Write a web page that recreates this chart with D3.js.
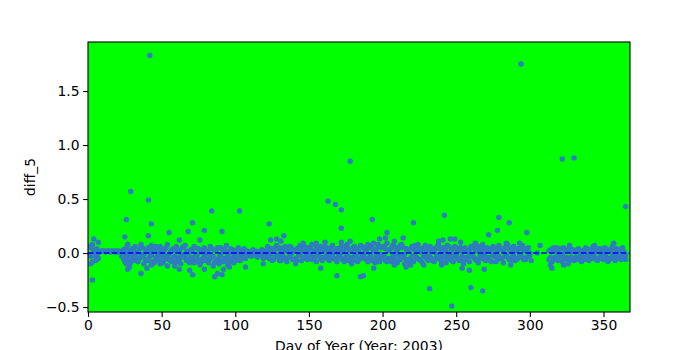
<!DOCTYPE html>
<html>
<head>
<meta charset="utf-8">
<script src="https://cdn.jsdelivr.net/npm/d3@7"></script>
<style>
  body { margin: 0; background: #fff; }
  svg { display: block; font-family: 'DejaVu Sans', sans-serif; }
</style>
</head>
<body>
<div id="chart"></div>
<script>
// Daily diff_5 values, day 1..365 (null = no reading that day)
const dailyDiffs = [
  0.06, -0.03, 0.08, 0.02, -0.07, 0.04, -0.05, 0.01, 0.02, 0.02,
  0.02, 0.01, 0.02, 0.02, 0.01, 0.02, 0.02, 0.01, 0.02, 0.01,
  0.02, 0.01, -0.03, 0.03, -0.08, 0.05, -0.06, 0.02, -0.09, 0.04,
  -0.04, 0.06, -0.07, 0.01, -0.05, 0.08, -0.02, -0.10, 0.03, -0.06,
  0.05, -0.03, 0.07, -0.08, 0.02, -0.05, 0.04, -0.07, 0.06, -0.02,
  -0.09, 0.03, -0.04, 0.08, -0.06, 0.01, -0.08, 0.04, -0.03, 0.06,
  -0.05, 0.02, -0.10, 0.05, -0.04, 0.07, -0.07, 0.00, -0.09, 0.03,
  -0.06, 0.06, -0.03, -0.08, 0.04, -0.11, 0.01, -0.05, 0.05, -0.07,
  0.02, -0.09, 0.06, -0.04, -0.12, 0.03, -0.07, 0.05, -0.10, -0.02,
  0.04, -0.08, -0.05, 0.07, -0.11, 0.01, -0.06, 0.03, -0.09, 0.02,
  -0.04, 0.05, -0.07, 0.00, -0.03, 0.04, -0.05, 0.02, -0.02, 0.01,
  -0.03, 0.03, -0.01, 0.02, -0.04, 0.01, -0.02, 0.03, -0.05, 0.02,
  -0.03, 0.06, -0.05, 0.04, -0.07, 0.02, -0.04, 0.07, -0.02, 0.05,
  -0.06, 0.03, -0.04, 0.06, -0.08, 0.01, -0.03, 0.05, -0.06, 0.02,
  -0.05, 0.04, -0.02, 0.07, -0.07, 0.03, -0.04, 0.01, -0.06, 0.05,
  -0.03, 0.08, -0.05, 0.02, -0.08, 0.04, -0.02, 0.06, -0.07, 0.03,
  -0.04, 0.05, -0.06, 0.02, -0.03, 0.07, -0.05, 0.01, -0.08, 0.04,
  -0.02, 0.06, -0.06, 0.03, -0.04, 0.08, -0.07, 0.02, -0.05, 0.05,
  -0.03, 0.04, -0.08, 0.01, -0.05, 0.06, -0.02, 0.03, -0.06, 0.05,
  -0.04, 0.07, -0.07, 0.02, -0.09, 0.04, -0.06, -0.08, 0.05, -0.03,
  0.06, -0.07, 0.09, -0.05, 0.03, -0.08, 0.07, -0.04, 0.01, -0.09,
  0.05, -0.06, 0.08, -0.03, -0.10, 0.04, -0.07, 0.02, -0.05, 0.06,
  -0.08, 0.03, -0.04, 0.07, -0.06, 0.01, -0.09, 0.05, -0.03, 0.02,
  -0.07, 0.06, -0.05, 0.03, -0.08, 0.04, -0.02, 0.08, -0.06, 0.01,
  -0.04, 0.05, -0.09, 0.07, -0.03, -0.06, 0.03, -0.08, 0.06, -0.02,
  -0.05, 0.04, -0.07, 0.02, -0.10, 0.05, -0.04, 0.01, -0.08, 0.06,
  -0.03, 0.07, -0.06, 0.03, -0.09, 0.04, -0.05, 0.08, -0.02, -0.07,
  0.05, -0.04, 0.02, -0.08, 0.06, -0.03, 0.04, -0.06, 0.07, -0.05,
  0.03, -0.09, 0.05, -0.02, 0.08, -0.06, 0.01, -0.04, 0.06, -0.07,
  0.02, -0.05, 0.04, -0.03, 0.07, -0.06, 0.03, -0.04, 0.05, -0.02,
  null, null, null, null, null, null, 0.07, null, null, null,
  null, null, -0.06, 0.03, -0.08, 0.05, -0.04, 0.02, -0.07, 0.04,
  -0.03, -0.08, 0.05, -0.05, 0.02, -0.06, 0.06, -0.04, 0.03, -0.07,
  0.01, -0.05, 0.04, -0.03, -0.08, 0.02, -0.06, 0.05, -0.02, -0.07,
  0.03, -0.05, 0.06, -0.04, 0.01, -0.07, 0.04, -0.03, 0.02, -0.06,
  0.05, -0.04, -0.08, 0.03, -0.05, 0.06, -0.02, -0.07, 0.04, -0.03,
  0.02, -0.06, 0.05, -0.04, -0.02
];

// second daily reading, day 1..365
const dailyDiffs2 = [
  -0.01, 0.05, -0.08, -0.02, 0.03, -0.04, 0.00, null, null, null,
  null, null, null, null, null, null, null, null, null, null,
  null, null, 0.00, -0.05, -0.02, -0.10, 0.01, -0.04, -0.01, -0.07,
  0.02, -0.02, -0.05, -0.08, 0.04, -0.03, 0.05, -0.01, -0.06, 0.02,
  -0.07, 0.01, -0.02, 0.03, -0.09, 0.06, -0.03, 0.00, -0.05, 0.04,
  0.01, -0.06, 0.05, -0.02, -0.01, -0.07, 0.03, -0.04, 0.02, -0.08,
  0.03, -0.06, -0.01, -0.03, 0.06, -0.02, 0.02, -0.06, 0.01, -0.04,
  0.02, -0.09, 0.05, -0.02, -0.06, 0.01, -0.08, 0.03, -0.03, 0.00,
  -0.06, -0.01, -0.05, 0.04, -0.03, -0.09, 0.02, -0.06, -0.04, 0.05,
  -0.07, 0.01, 0.03, -0.06, -0.02, -0.08, 0.04, -0.05, -0.01, -0.07,
  0.02, -0.02, 0.03, -0.06, 0.01, null, 0.00, null, 0.01, null,
  0.00, null, 0.02, null, -0.01, null, 0.01, null, 0.00, -0.02,
  0.01, -0.04, 0.03, -0.01, 0.02, -0.06, 0.05, -0.03, 0.04, -0.07,
  0.01, -0.02, 0.05, -0.05, 0.02, -0.04, 0.06, -0.01, 0.03, -0.06,
  0.02, -0.07, 0.05, -0.01, 0.03, -0.05, 0.06, -0.03, 0.02, -0.01,
  0.04, -0.06, 0.01, -0.04, 0.05, -0.02, 0.03, -0.05, 0.02, -0.04,
  0.06, -0.02, 0.03, -0.07, 0.05, -0.01, 0.02, -0.06, 0.04, -0.03,
  0.03, -0.05, 0.01, -0.08, 0.06, -0.02, 0.04, -0.04, 0.02, -0.07,
  0.06, -0.02, 0.03, -0.06, 0.07, -0.03, 0.05, -0.05, 0.01, -0.08,
  0.05, -0.02, 0.04, -0.06, 0.02, -0.03, 0.08, -0.01, -0.05, 0.06,
  -0.02, 0.04, -0.08, 0.02, -0.06, 0.05, -0.03, 0.06, -0.07, 0.03,
  -0.02, 0.07, -0.04, 0.05, -0.01, -0.06, 0.03, -0.08, 0.04, -0.03,
  0.05, -0.02, 0.06, -0.05, 0.02, -0.07, 0.04, -0.03, 0.07, -0.05,
  0.02, -0.03, 0.05, -0.07, 0.01, -0.05, 0.06, -0.03, 0.04, -0.08,
  0.05, -0.03, 0.02, -0.05, 0.06, -0.01, -0.07, 0.04, -0.03, 0.05,
  0.02, -0.07, 0.05, -0.03, 0.04, -0.06, 0.02, -0.05, 0.03, -0.02,
  0.05, -0.04, 0.02, -0.07, 0.06, -0.03, 0.03, -0.05, 0.04, 0.01,
  -0.06, 0.04, -0.07, 0.03, -0.02, 0.05, -0.08, 0.02, -0.03, 0.04,
  -0.05, 0.02, -0.03, 0.06, -0.04, 0.03, -0.07, 0.05, -0.03, 0.02,
  -0.06, 0.04, -0.02, 0.05, -0.04, 0.02, -0.06, 0.04, -0.03, 0.00,
  null, null, null, null, 0.00, null, null, null, null, null,
  null, null, 0.02, -0.04, 0.01, -0.06, 0.03, -0.05, 0.00, -0.03,
  0.04, -0.02, -0.06, 0.02, -0.04, 0.03, -0.07, 0.01, -0.05, 0.02,
  -0.04, 0.03, -0.06, 0.02, 0.00, -0.04, 0.03, -0.05, 0.04, -0.01,
  -0.05, 0.02, -0.03, 0.03, -0.06, 0.02, -0.05, 0.04, -0.04, 0.01,
  -0.03, 0.03, 0.01, -0.06, 0.02, -0.03, 0.04, -0.05, 0.01, 0.03,
  -0.05, 0.03, -0.02, 0.01, -0.06
];

// extra readings (outliers)
const extraDays = [
  3, 2, 6, 4, 7, 25, 26, 27, 27, 28, 29, 36, 40, 41, 41, 42, 43, 43, 49, 54, 55, 59, 62,
  62, 68, 69, 71, 71, 76, 79, 79, 84, 86, 88, 91, 91, 92, 96, 103, 107, 119, 123, 124,
  128, 131, 131, 133, 141, 146, 155, 158, 161, 163, 168, 169, 172, 172, 172, 178, 178, 179, 185, 187,
  190, 193, 194, 194, 198, 202, 203, 208, 208, 214, 216, 219, 221, 222, 224, 228, 232, 238, 240, 241, 242, 246, 247, 249,
  253, 254, 259, 260, 263, 268, 269, 272, 278, 279, 284, 286, 287, 294, 293, 298, 301,
  314, 315, 318, 322, 323, 326, 327, 330, 344, 357, 365
];
const extraDiffs = [
  -0.25, -0.10, -0.06, 0.13, 0.10, 0.15, 0.31, 0.08, -0.15, -0.13, 0.57, -0.19, -0.14, 0.49, 0.16, 1.83, -0.11, 0.27, -0.10, -0.12, 0.19, -0.12, 0.12,
  -0.15, 0.20, -0.16, 0.28, -0.20, 0.12, 0.21, -0.15, 0.39, -0.22, -0.19, 0.20, -0.20, -0.15, -0.13, 0.39, -0.13, -0.10, 0.27, 0.12,
  0.13, 0.11, -0.07, 0.16, -0.10, 0.09, 0.09, -0.14, 0.10, 0.48, 0.45, -0.21, 0.40, 0.23, 0.10, 0.11, 0.85, -0.10, -0.22, -0.21,
  0.08, 0.31, 0.09, -0.14, 0.13, 0.14, 0.19, 0.11, -0.11, 0.14, -0.13, -0.11, 0.28, 0.07, 0.08, -0.11, -0.33, 0.11, -0.11, 0.12, 0.35, 0.13, -0.49, 0.13,
  0.10, -0.14, -0.16, -0.32, 0.09, -0.35, -0.15, 0.17, 0.21, 0.33, 0.09, 0.28, -0.11, 1.75, 0.09, 0.19, -0.07,
  -0.11, -0.14, 0.05, 0.87, -0.11, -0.10, 0.07, 0.88, 0.07, 0.09, 0.43
];

const xTicks = [0, 50, 100, 150, 200, 250, 300, 350];
const yTicks = [-0.5, 0.0, 0.5, 1.0, 1.5];

const toPoints = arr => arr
  .map((v, i) => ({ day: i + 1, diff: v }))
  .filter(d => d.diff !== null);

const points = toPoints(dailyDiffs)
  .concat(toPoints(dailyDiffs2))
  .concat(extraDays.map((d, i) => ({ day: d, diff: extraDiffs[i] })));

// layout
const W = 700, H = 350;
const margin = { top: 42, right: 70, bottom: 38, left: 88 };
const width = W - margin.left - margin.right;
const height = H - margin.top - margin.bottom;

const svg = d3.select('#chart').append('svg')
  .attr('width', W)
  .attr('height', H);

const g = svg.append('g')
  .attr('transform', 'translate(' + margin.left + ',' + margin.top + ')');

const x = d3.scaleLinear().domain([0, 368]).range([0, width]);
const y = d3.scaleLinear().domain([-0.546, 1.954]).range([height, 0]);

// green axes background
g.append('rect')
  .attr('width', width)
  .attr('height', height)
  .attr('fill', '#00ff00');

g.append('clipPath').attr('id', 'clip')
  .append('rect').attr('width', width).attr('height', height);

// points
g.append('g')
  .attr('clip-path', 'url(#clip)')
  .selectAll('circle')
  .data(points)
  .enter()
  .append('circle')
  .attr('cx', d => x(d.day))
  .attr('cy', d => y(d.diff))
  .attr('r', 2.7)
  .attr('fill', '#2f7cbf');

// zero reference line
g.append('line')
  .attr('x1', 0)
  .attr('x2', width)
  .attr('y1', y(0))
  .attr('y2', y(0))
  .attr('stroke', '#0000ff')
  .attr('stroke-width', 1.5)
  .attr('stroke-dasharray', '5.55,2.4');

// frame
g.append('rect')
  .attr('width', width)
  .attr('height', height)
  .attr('fill', 'none')
  .attr('stroke', '#000')
  .attr('stroke-width', 1.1);

// axes
const fmtY = d => d3.format('.1f')(d).replace('-', '\u2212');

const xAxis = g.append('g')
  .attr('transform', 'translate(0,' + height + ')')
  .call(d3.axisBottom(x).tickValues(xTicks).tickSize(4.9).tickPadding(3.5).tickFormat(d3.format('d')));

const yAxis = g.append('g')
  .call(d3.axisLeft(y).tickValues(yTicks).tickSize(4.9).tickPadding(3.5).tickFormat(fmtY));

[xAxis, yAxis].forEach(a => {
  a.select('.domain').remove();
  a.selectAll('line').attr('stroke', '#000').attr('stroke-width', 1.1);
  a.selectAll('text')
    .attr('fill', '#000')
    .style('font-family', 'DejaVu Sans, sans-serif')
    .style('font-size', '13.9px');
});

// axis labels
svg.append('text')
  .attr('x', margin.left + width / 2)
  .attr('y', 351)
  .attr('text-anchor', 'middle')
  .style('font-size', '13.9px')
  .text('Day of Year (Year: 2003)');

svg.append('text')
  .attr('transform', 'translate(35,' + (margin.top + height / 2) + ') rotate(-90)')
  .attr('text-anchor', 'middle')
  .style('font-size', '13.9px')
  .text('diff_5');
</script>
</body>
</html>
